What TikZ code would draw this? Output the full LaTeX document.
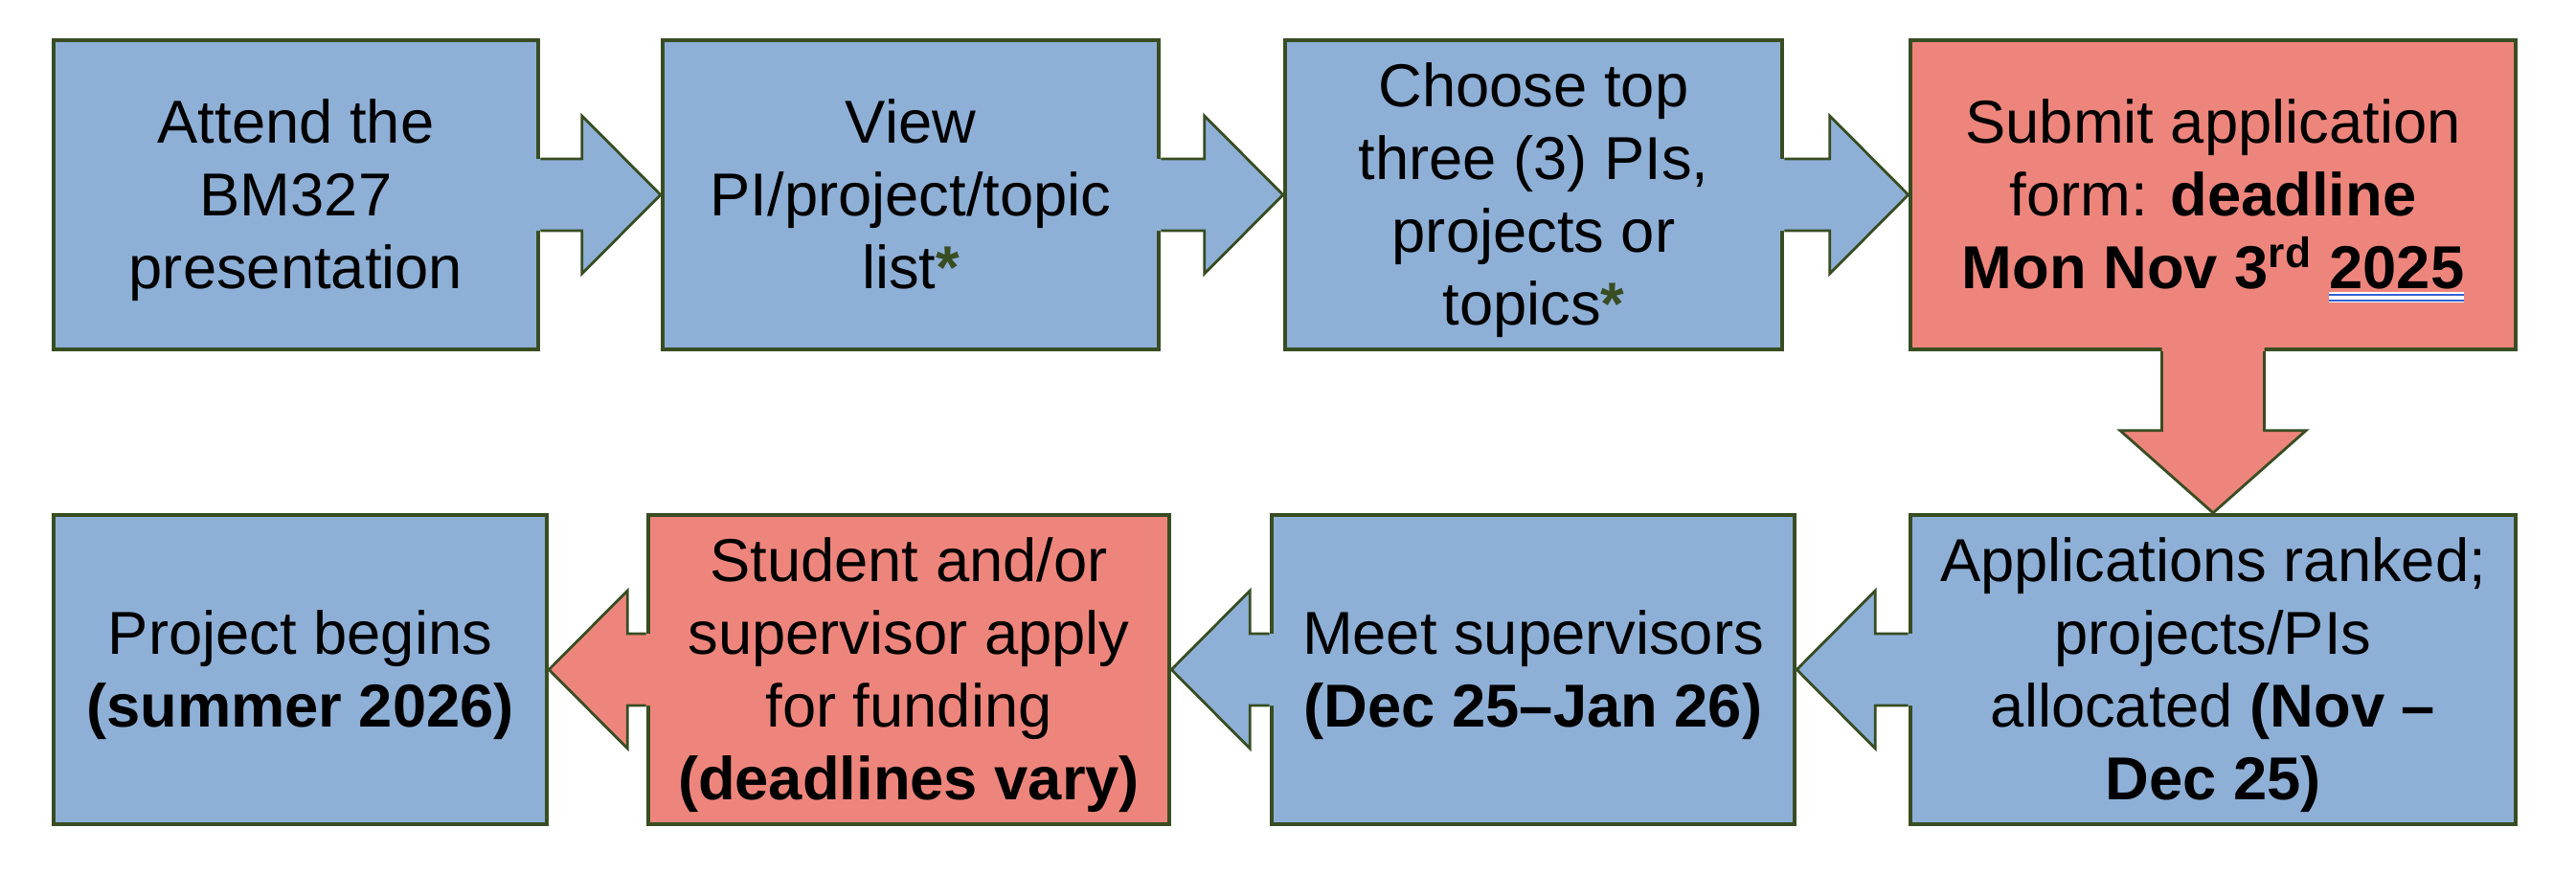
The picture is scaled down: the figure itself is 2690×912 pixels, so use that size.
\documentclass[tikz,border=0pt]{standalone}
\usepackage{fontspec}
\setmainfont{Liberation Sans}
\usepackage{xcolor}
\usetikzlibrary{calc}
\definecolor{boxblue}{RGB}{142,176,215}
\definecolor{boxred}{RGB}{238,133,124}
\definecolor{edgegreen}{RGB}{56,77,34}
\definecolor{markblue}{RGB}{52,98,212}
\newcommand{\starmark}{{\color{edgegreen}\textbf{*}}}
\newcommand{\topgap}{\rule{0pt}{17pt}}
\newcommand{\lastgap}{\rule[-4.3pt]{0pt}{0pt}}
\newcommand{\checkline}[1]{\setbox0\hbox{#1}%
  \rlap{\color{white}\rule[-4pt]{\wd0}{3.15pt}}%
  \rlap{\color{markblue}\rule[-2pt]{\wd0}{0.6pt}}%
  \rlap{\color{markblue}\rule[-3.7pt]{\wd0}{0.6pt}}\box0}
\tikzset{
  stepblue/.style={rectangle, draw=edgegreen, line width=1.2pt, fill=boxblue, minimum height=3.23cm, inner sep=0pt, align=center,
    font=\fontsize{18}{21.6}\selectfont},
  stepred/.style={stepblue, fill=boxred},
  arrowline/.style={draw=edgegreen, line width=0.8pt, line join=miter},
}
\begin{document}
\begin{tikzpicture}[x=0.01cm, y=-0.01cm]
  \useasboundingbox (0,0) rectangle (2690,912);

  % Top row
  \node[stepblue, minimum width=5.06cm] (attend) at (309,203.5) {\topgap Attend the\\BM327\\presentation\lastgap};
  \node[stepblue, minimum width=5.18cm] (view) at (951,203.5) {\topgap View\\PI/project/topic\\list\starmark\lastgap};
  \node[stepblue, minimum width=5.19cm] (choose) at (1601.5,203.5) {\topgap Choose top\\three (3) PIs,\\projects or\\topics\starmark\lastgap};
  \node[stepred, minimum width=6.32cm] (submit) at (2311,203.5) {\topgap Submit application\\form: \textbf{deadline}\\\textbf{Mon Nov 3\textsuperscript{rd} \checkline{2025}}\lastgap};

  % Bottom row
  \node[stepblue, minimum width=5.15cm] (begins) at (313.5,699.5) {\topgap Project begins\\\textbf{(summer 2026)}\lastgap};
  \node[stepred, minimum width=5.44cm] (funding) at (949,699.5) {\topgap Student and/or\\supervisor apply\\for funding\\\textbf{(deadlines vary)}\lastgap};
  \node[stepblue, minimum width=5.46cm] (meet) at (1601,699.5) {\topgap Meet supervisors\\\textbf{(Dec 25--Jan 26)}\lastgap};
  \node[stepblue, minimum width=6.32cm] (ranked) at (2311,699.5) {\topgap Applications ranked;\\projects/PIs\\allocated \textbf{(Nov --}\\\textbf{Dec 25)}\lastgap};

  % Block arrows along the rows
  \foreach \from/\to/\dir/\col in {attend.east/view.west/1/boxblue, view.east/choose.west/1/boxblue, choose.east/submit.west/1/boxblue, ranked.west/meet.east/-1/boxblue, meet.west/funding.east/-1/boxblue, funding.west/begins.east/-1/boxred}{
    \fill[\col] ($(\from)+({-6*\dir},-37.5)$) -- ($(\to)+({-82*\dir},-37.5)$) -- ($(\to)+({-82*\dir},-82.5)$) -- (\to)
      -- ($(\to)+({-82*\dir},82.5)$) -- ($(\to)+({-82*\dir},37.5)$) -- ($(\from)+({-6*\dir},37.5)$) -- cycle;
    \draw[arrowline] ($(\from)+(0,-37.5)$) -- ($(\to)+({-82*\dir},-37.5)$) -- ($(\to)+({-82*\dir},-82.5)$) -- (\to)
      -- ($(\to)+({-82*\dir},82.5)$) -- ($(\to)+({-82*\dir},37.5)$) -- ($(\from)+(0,37.5)$);
  }

  % Down arrow
  \fill[boxred] ($(submit.south)+(-53.5,-6)$) -- ($(ranked.north)+(-53.5,-86)$) -- ($(ranked.north)+(-97,-86)$) -- (ranked.north)
    -- ($(ranked.north)+(97,-86)$) -- ($(ranked.north)+(53.5,-86)$) -- ($(submit.south)+(53.5,-6)$) -- cycle;
  \draw[arrowline] ($(submit.south)+(-53.5,0)$) -- ($(ranked.north)+(-53.5,-86)$) -- ($(ranked.north)+(-97,-86)$) -- (ranked.north)
    -- ($(ranked.north)+(97,-86)$) -- ($(ranked.north)+(53.5,-86)$) -- ($(submit.south)+(53.5,0)$);
\end{tikzpicture}
\end{document}
